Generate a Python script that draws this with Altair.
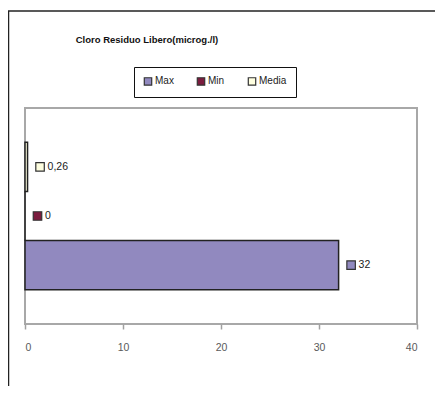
import altair as alt
import pandas as pd

# ---- data ----
series = ["Max", "Min", "Media"]
values = [32, 0, 0.26]
colors = ["#9189bf", "#7b1c3e", "#ffffe0"]
x_ticks = [0, 10, 20, 30, 40]
title_text = "Cloro Residuo Libero(microg./l)"

FONT = "Liberation Sans, Arial"

df = pd.DataFrame({
    "series": series,
    "value": values,
    "label": [str(v).replace(".", ",") for v in values],
})

y_order = ["Media", "Min", "Max"]
yenc = alt.Y("series:N", sort=y_order, axis=None,
             scale=alt.Scale(paddingInner=0, paddingOuter=0.7))
xenc = alt.X("value:Q",
             scale=alt.Scale(domain=[0, 40], nice=False),
             axis=alt.Axis(values=x_ticks, grid=False, domain=False,
                           tickColor="#a0a0a0", tickSize=5, tickWidth=1.5,
                           labelColor="#5a5a5a", labelFontSize=10.5,
                           labelFont=FONT, labelPadding=13, title=None))

color_scale = alt.Scale(domain=series, range=colors)

base = alt.Chart(df)

bars = base.mark_bar(stroke="#222222", strokeWidth=1.5).encode(
    x=xenc,
    y=yenc,
    color=alt.Color("series:N", scale=color_scale, sort=series,
                    legend=alt.Legend(
                        orient="none", legendX=109, legendY=-41,
                        direction="horizontal", title=None,
                        strokeColor="#111111", fillColor="white",
                        padding=9, symbolType="square", symbolSize=55,
                        symbolStrokeColor="#333333", symbolStrokeWidth=1.2,
                        labelFontSize=10, labelFont=FONT, labelColor="#222222",
                        labelOffset=2, columnPadding=20)),
)

keys = base.mark_point(shape="square", filled=True, size=72,
                       stroke="#333333", strokeWidth=1.2, opacity=1).encode(
    x=alt.X("value:Q"),
    y=alt.Y("series:N", sort=y_order),
    xOffset=alt.value(12.5),
    fill=alt.Fill("series:N", scale=color_scale, legend=None),
)

labels = base.mark_text(align="left", baseline="middle", dx=20, fontSize=10.5,
                        font=FONT, color="#222222").encode(
    x=alt.X("value:Q"),
    y=alt.Y("series:N", sort=y_order),
    text="label:N",
)

one = alt.Data(values=[{}])

title = alt.Chart(one).mark_text(fontSize=9.5, fontWeight="bold", font=FONT,
                                 color="#111111", align="center",
                                 baseline="middle").encode(
    x=alt.value(122), y=alt.value(-68), text=alt.value(title_text))

frame_top = alt.Chart(one).mark_rule(color="#222222", strokeWidth=1.5).encode(
    x=alt.value(-17), x2=alt.value(410), y=alt.value(-97))
frame_left = alt.Chart(one).mark_rule(color="#222222", strokeWidth=1.5).encode(
    x=alt.value(-16.5), y=alt.value(-97), y2=alt.value(278))

chart = alt.layer(bars, keys, labels, title, frame_top, frame_left).properties(
    width=392, height=216,
    padding={"left": 17, "top": 100, "right": 18, "bottom": 62},
    autosize=alt.AutoSizeParams(type="none"),
    background="white",
).configure_view(stroke="#a8a8a8", strokeWidth=2)

chart.save("out.html", embed_options={"renderer": "svg", "actions": False})
